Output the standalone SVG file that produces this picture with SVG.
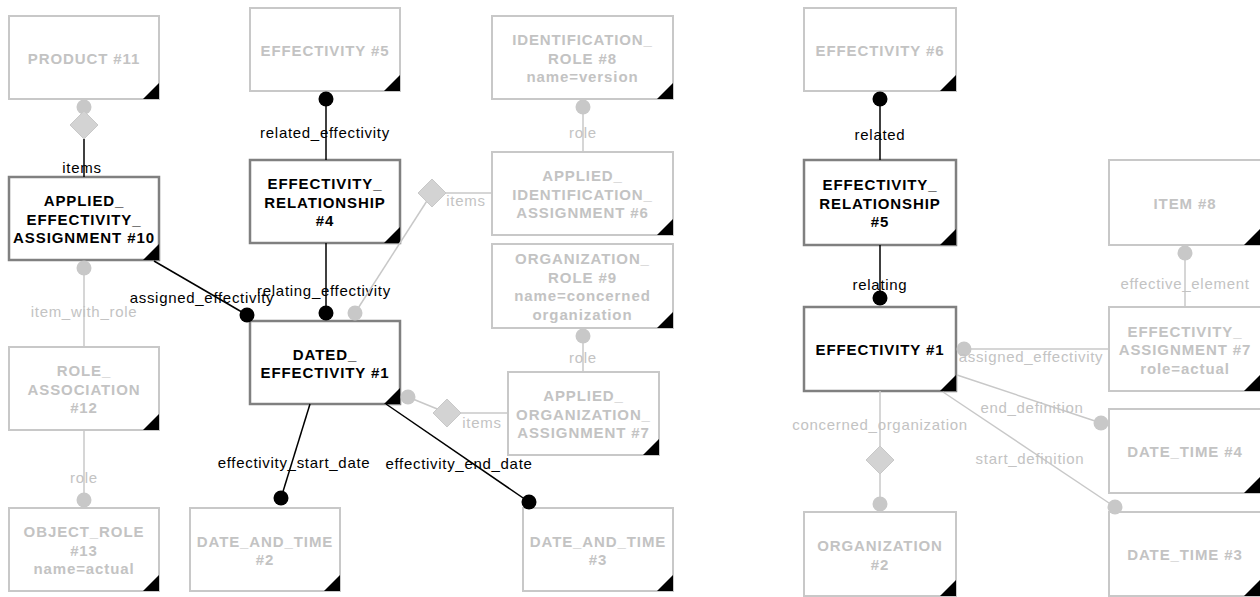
<svg xmlns="http://www.w3.org/2000/svg" width="1260" height="597" viewBox="0 0 1260 597">
<style>
.n rect{fill:#fff}
.lt rect{stroke:#c8c8c8;stroke-width:2}
.dk rect{stroke:#808080;stroke-width:2.5}
.n polygon{fill:#000}
.n text{font-family:"Liberation Sans",Arial,sans-serif;font-weight:bold;font-size:15px;letter-spacing:0.9px;text-anchor:middle}
.lt text{fill:#c3c3c3}
.dk text{fill:#000}
.bl{stroke:#000;stroke-width:1.5;fill:none}
.gl{stroke:#c8c8c8;stroke-width:1.5;fill:none}
.bd{fill:#000}
.gd{fill:#c8c8c8}
.dm{fill:#d3d3d3;stroke:#c8c8c8;stroke-width:1}
.lb{font-family:"Liberation Sans",Arial,sans-serif;font-size:15px;letter-spacing:0.7px;text-anchor:middle}
.lbb{fill:#000}
.lbg{fill:#c3c3c3}
</style>
<rect width="1260" height="597" fill="#fff"/>
<g id="n11" class="n lt"><rect x="9" y="16" width="150" height="83"/><polygon points="143,99 159,99 159,83"/><text x="84" y="63.5">PRODUCT #11</text></g>
<g id="n5" class="n lt"><rect x="250" y="8" width="150" height="83"/><polygon points="384,91 400,91 400,75"/><text x="325" y="55.5">EFFECTIVITY #5</text></g>
<g id="n8" class="n lt"><rect x="492" y="16" width="181" height="83"/><polygon points="657,99 673,99 673,83"/><text x="582.5" y="45">IDENTIFICATION_</text><text x="582.5" y="63.5">ROLE #8</text><text x="582.5" y="82">name=version</text></g>
<g id="n10" class="n dk"><rect x="9" y="177" width="150" height="83"/><polygon points="143,260 159,260 159,244"/><text x="84" y="206">APPLIED_</text><text x="84" y="224.5">EFFECTIVITY_</text><text x="84" y="243">ASSIGNMENT #10</text></g>
<g id="n4" class="n dk"><rect x="250" y="160" width="150" height="83"/><polygon points="384,243 400,243 400,227"/><text x="325" y="189">EFFECTIVITY_</text><text x="325" y="207.5">RELATIONSHIP</text><text x="325" y="226">#4</text></g>
<g id="n6" class="n lt"><rect x="492" y="152" width="181" height="83"/><polygon points="657,235 673,235 673,219"/><text x="582.5" y="181">APPLIED_</text><text x="582.5" y="199.5">IDENTIFICATION_</text><text x="582.5" y="218">ASSIGNMENT #6</text></g>
<g id="n9" class="n lt"><rect x="492" y="244" width="181" height="84"/><polygon points="657,328 673,328 673,312"/><text x="582.5" y="264">ORGANIZATION_</text><text x="582.5" y="282.5">ROLE #9</text><text x="582.5" y="301">name=concerned</text><text x="582.5" y="319.5">organization</text></g>
<g id="n1" class="n dk"><rect x="250" y="321" width="150" height="83"/><polygon points="384,404 400,404 400,388"/><text x="325" y="359.5">DATED_</text><text x="325" y="378">EFFECTIVITY #1</text></g>
<g id="n12" class="n lt"><rect x="9" y="347" width="150" height="83"/><polygon points="143,430 159,430 159,414"/><text x="84" y="376">ROLE_</text><text x="84" y="394.5">ASSOCIATION</text><text x="84" y="413">#12</text></g>
<g id="n7" class="n lt"><rect x="508" y="372" width="151" height="83"/><polygon points="643,455 659,455 659,439"/><text x="583.5" y="401">APPLIED_</text><text x="583.5" y="419.5">ORGANIZATION_</text><text x="583.5" y="438">ASSIGNMENT #7</text></g>
<g id="n13" class="n lt"><rect x="9" y="508" width="150" height="83"/><polygon points="143,591 159,591 159,575"/><text x="84" y="537">OBJECT_ROLE</text><text x="84" y="555.5">#13</text><text x="84" y="574">name=actual</text></g>
<g id="n2" class="n lt"><rect x="190" y="508" width="150" height="83"/><polygon points="324,591 340,591 340,575"/><text x="265" y="546.5">DATE_AND_TIME</text><text x="265" y="565">#2</text></g>
<g id="n3" class="n lt"><rect x="523" y="508" width="150" height="83"/><polygon points="657,591 673,591 673,575"/><text x="598" y="546.5">DATE_AND_TIME</text><text x="598" y="565">#3</text></g>
<g id="r6" class="n lt"><rect x="804" y="8" width="152" height="83"/><polygon points="940,91 956,91 956,75"/><text x="880" y="55.5">EFFECTIVITY #6</text></g>
<g id="r5" class="n dk"><rect x="804" y="160" width="152" height="85"/><polygon points="940,245 956,245 956,229"/><text x="880" y="190">EFFECTIVITY_</text><text x="880" y="208.5">RELATIONSHIP</text><text x="880" y="227">#5</text></g>
<g id="r8" class="n lt"><rect x="1109" y="160" width="152" height="85"/><polygon points="1244,245 1260,245 1260,229"/><text x="1185" y="208.5">ITEM #8</text></g>
<g id="r1" class="n dk"><rect x="804" y="307" width="152" height="84"/><polygon points="940,391 956,391 956,375"/><text x="880" y="355">EFFECTIVITY #1</text></g>
<g id="r7" class="n lt"><rect x="1109" y="307" width="152" height="84"/><polygon points="1244,391 1260,391 1260,375"/><text x="1185" y="336.5">EFFECTIVITY_</text><text x="1185" y="355">ASSIGNMENT #7</text><text x="1185" y="373.5">role=actual</text></g>
<g id="r4" class="n lt"><rect x="1109" y="409" width="152" height="84"/><polygon points="1244,493 1260,493 1260,477"/><text x="1185" y="457">DATE_TIME #4</text></g>
<g id="r3" class="n lt"><rect x="1109" y="512" width="152" height="84"/><polygon points="1244,596 1260,596 1260,580"/><text x="1185" y="560">DATE_TIME #3</text></g>
<g id="r2" class="n lt"><rect x="804" y="512" width="152" height="84"/><polygon points="940,596 956,596 956,580"/><text x="880" y="551">ORGANIZATION</text><text x="880" y="569.5">#2</text></g>
<g id="connectors">
<line class="bl" x1="84" y1="139" x2="84" y2="177"/>
<circle class="gd" cx="84" cy="107" r="7.5"/>
<polygon class="dm" points="84,111 98,125 84,139 70,125"/>
<text class="lb lbb" x="82" y="173">items</text>
<line class="bl" x1="326" y1="99" x2="326" y2="160"/>
<circle class="bd" cx="326" cy="99" r="7.5"/>
<text class="lb lbb" x="325" y="138">related_effectivity</text>
<line class="bl" x1="326" y1="243" x2="326" y2="313"/>
<circle class="bd" cx="326" cy="313" r="7.5"/>
<text class="lb lbb" x="324" y="296">relating_effectivity</text>
<line class="bl" x1="154" y1="261" x2="247" y2="315"/>
<circle class="bd" cx="247" cy="315" r="7.5"/>
<text class="lb lbb" x="202" y="303">assigned_effectivity</text>
<line class="gl" x1="84" y1="268" x2="84" y2="347"/>
<circle class="gd" cx="84" cy="268" r="7.5"/>
<text class="lb lbg" x="84" y="317">item_with_role</text>
<line class="gl" x1="84" y1="430" x2="84" y2="500"/>
<circle class="gd" cx="84" cy="500" r="7.5"/>
<text class="lb lbg" x="84" y="483">role</text>
<line class="bl" x1="310" y1="404" x2="281" y2="498"/>
<circle class="bd" cx="281" cy="498" r="7.5"/>
<text class="lb lbb" x="294" y="468">effectivity_start_date</text>
<line class="bl" x1="386" y1="404" x2="529" y2="502"/>
<circle class="bd" cx="529" cy="502" r="7.5"/>
<text class="lb lbb" x="459" y="469">effectivity_end_date</text>
<line class="gl" x1="355" y1="313" x2="432" y2="193"/>
<line class="gl" x1="446" y1="193" x2="492" y2="193"/>
<circle class="gd" cx="355" cy="313" r="7.5"/>
<polygon class="dm" points="432,179 446,193 432,207 418,193"/>
<text class="lb lbg" x="466" y="206">items</text>
<line class="gl" x1="583" y1="107" x2="583" y2="152"/>
<circle class="gd" cx="583" cy="107" r="7.5"/>
<text class="lb lbg" x="583" y="138">role</text>
<line class="gl" x1="583" y1="336" x2="583" y2="372"/>
<circle class="gd" cx="583" cy="336" r="7.5"/>
<text class="lb lbg" x="583" y="363">role</text>
<line class="gl" x1="408" y1="397" x2="447" y2="413"/>
<line class="gl" x1="461" y1="413" x2="508" y2="413"/>
<circle class="gd" cx="408" cy="397" r="7.5"/>
<polygon class="dm" points="447,399 461,413 447,427 433,413"/>
<text class="lb lbg" x="482" y="428">items</text>
<line class="bl" x1="880" y1="99" x2="880" y2="160"/>
<circle class="bd" cx="880" cy="99" r="7.5"/>
<text class="lb lbb" x="880" y="140">related</text>
<line class="bl" x1="880" y1="245" x2="880" y2="298"/>
<circle class="bd" cx="880" cy="298" r="7.5"/>
<text class="lb lbb" x="880" y="290">relating</text>
<line class="gl" x1="964" y1="349" x2="1109" y2="349"/>
<circle class="gd" cx="964" cy="349" r="7.5"/>
<text class="lb lbg" x="1031" y="362">assigned_effectivity</text>
<line class="gl" x1="1185" y1="253" x2="1185" y2="307"/>
<circle class="gd" cx="1185" cy="253" r="7.5"/>
<text class="lb lbg" x="1185" y="289">effective_element</text>
<line class="gl" x1="957" y1="375" x2="1101" y2="423"/>
<circle class="gd" cx="1101" cy="423" r="7.5"/>
<text class="lb lbg" x="1032" y="413">end_definition</text>
<line class="gl" x1="943" y1="392" x2="1115" y2="507"/>
<circle class="gd" cx="1115" cy="507" r="7.5"/>
<text class="lb lbg" x="1030" y="464">start_definition</text>
<line class="gl" x1="880" y1="391" x2="880" y2="504"/>
<polygon class="dm" points="880,446 894,460 880,474 866,460"/>
<circle class="gd" cx="880" cy="504" r="7.5"/>
<text class="lb lbg" x="880" y="430">concerned_organization</text>
</g>
</svg>
